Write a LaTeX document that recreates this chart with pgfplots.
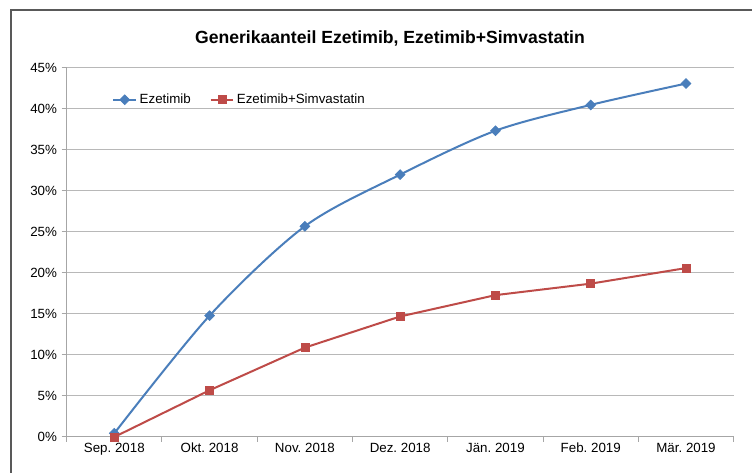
\documentclass[border=0pt]{standalone}
\usepackage{pgfplots}
\pgfplotsset{compat=1.18}
\usepackage{fontspec}
\setmainfont{Liberation Sans}
\definecolor{exblue}{HTML}{4A7EBB}
\definecolor{exred}{HTML}{BE4B48}
\frenchspacing
\begin{document}
\frenchspacing
\begin{tikzpicture}
\begin{axis}[
  at={(0,0)}, anchor=south west,
  scale only axis, width=500.25pt, height=276.75pt,
  xmin=-0.5, xmax=6.5, ymin=0, ymax=45,
  xtick={-0.5,0.5,...,6.5}, xticklabels={},
  extra x ticks={0,1,2,3,4,5,6},
  extra x tick labels={Sep. 2018, Okt. 2018, Nov. 2018, Dez. 2018, J\"an. 2019, Feb. 2019, M\"ar. 2019},
  extra x tick style={major tick length=0pt, grid=none},
  ytick={0,5,...,45},
  yticklabel={\pgfmathparse{int(\tick)}\pgfmathresult\%},
  ymajorgrids, grid style={color=black!28, line width=0.75pt},
  axis x line*=bottom, axis y line*=left,
  axis line style={color=black!35, line width=0.75pt},
  tick style={color=black!35, line width=0.75pt},
  tick align=outside, major tick length=3.75pt,
  ticklabel style={font=\fontsize{10}{12}\selectfont},
  xticklabel style={yshift=-1pt},
  legend style={at={(0.062,0.945)}, anchor=north west, draw=none, fill=none,
    legend columns=2, font=\fontsize{10}{12}\selectfont,
    /tikz/every even column/.append style={column sep=12pt}},
  legend cell align=left,
]
\addplot[exblue, line width=1.5pt, smooth, mark=square*, mark size=2.6pt,
  mark options={fill=exblue, draw=exblue, line width=0.5pt, rotate=45}]
  coordinates {(0,0.45) (1,14.8) (2,25.7) (3,32.0) (4,37.35) (5,40.5) (6,43.1)};
\addlegendentry{Ezetimib}
\addplot[exred, line width=1.5pt, mark=square*, mark size=3pt,
  mark options={fill=exred, draw=exred, line width=0.5pt}]
  coordinates {(0,0.0) (1,5.7) (2,10.9) (3,14.7) (4,17.3) (5,18.7) (6,20.6)};
\addlegendentry{Ezetimib+Simvastatin}
\end{axis}
\node[font=\bfseries\fontsize{13.2}{16}\selectfont] at (242.5pt,299.25pt)
  {Generikaanteil Ezetimib, Ezetimib+Simvastatin};
\pgfresetboundingbox
\useasboundingbox (-50pt,-27pt) rectangle (514pt,327.75pt);
\draw[black!65, line width=1pt] (-41.8pt,-40pt) rectangle (530pt,320.25pt);
\end{tikzpicture}
\end{document}
